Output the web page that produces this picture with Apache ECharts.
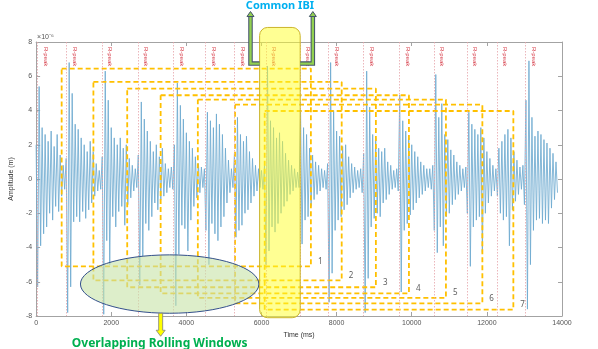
<!DOCTYPE html>
<html>
<head>
<meta charset="utf-8">
<title>Overlapping Rolling Windows</title>
<script src="https://cdn.jsdelivr.net/npm/echarts@6/dist/echarts.min.js"></script>
<style>
  html, body { margin: 0; padding: 0; background: #fff; }
  #chart { width: 598px; height: 349px; }
</style>
</head>
<body>
<div id="chart"></div>
<script>
// sample step of the signal (ms)
var SAMPLE_MS = 40;

// amplitude, in units of 1e-6 m (one line per beat)
var amplitude = [
  2.0, -6.3, 5.4, -3.9, 3.0, -3.2, 2.6, -2.8, 2.2, -2.0, 2.8, -2.4, 1.9, -1.6, 2.6, -1.9, 1.4, -1.0, 0.8, -0.6,
  1.2, -7.8, 6.8, -6.3, 5.0, -2.5, 3.2, -2.2, 2.9, -2.5, 2.4, -1.9, 2.0, -2.3, 1.6, -1.8, 2.2, -1.4, 1.6, -1.0, 0.9, -0.7, 0.5, -0.6,
  1.3, -7.9, 6.3, -3.6, 4.6, -5.0, 3.0, -2.2, 2.4, -2.8, 2.0, -1.9, 2.4, -1.6, 1.8, -2.7, 2.0, -1.5, 1.2, -1.1, 0.8, -0.7, 0.6, -0.5,
  1.4, -6.2, 4.5, -4.5, 3.5, -2.6, 2.8, -3.0, 2.2, -2.2, 1.6, -1.4, 2.0, -1.8, 1.3, -1.2, 1.8, -1.0, 0.9, -0.8, 0.6, -0.5, 0.7, -0.6,
  2.0, -7.4, 5.6, -4.4, 4.3, -2.7, 3.5, -2.9, 2.7, -4.2, 2.2, -2.4, 1.8, -1.6, 1.3, -1.1, 0.9, -0.8, 0.7, -0.5, 0.6,
  -3.0, 3.9, -5.0, 3.4, -2.6, 3.0, -3.2, 3.8, -3.6, 3.2, -2.8, 2.6, -2.2, 1.8, -1.4, 1.1, -0.8, 0.6, -0.5,
  1.5, -3.4, 3.6, -3.0, 2.6, -2.7, 2.2, -2.0, 2.5, -1.8, 1.6, -1.4, 1.2, -1.0, 0.8, -0.7, 0.6, -0.5, 0.5, -0.6, 0.8,
  -5.0, 6.6, -4.2, 3.4, -2.8, 3.0, -3.1, 2.4, -2.6, 2.7, -2.0, 2.2, -1.6, 1.5, -1.3, 1.1, -0.9, 0.8, -0.7, 0.6, -0.5, 0.4, -0.5,
  4.0, -3.8, 3.0, -2.4, 2.6, -2.2, 1.8, -1.6, 1.4, -1.2, 1.0, -0.9, 0.8, -0.7, 0.6, -0.5, 0.5, -0.6, 0.9,
  -7.2, 6.8, -5.5, 4.0, -3.0, 2.8, -2.4, 2.5, -2.2, 1.9, -1.8, 2.0, -1.5, 1.3, -1.1, 0.9, -0.8, 0.7, -0.6, 0.5, -0.5, 0.6, -0.8,
  1.5, -7.8, 6.3, -5.8, 4.2, -2.8, 2.6, -2.3, 2.4, -2.0, 1.8, -2.2, 1.6, -1.4, 1.8, -1.2, 1.0, -0.9, 0.8, -0.6, 0.5, -0.5, 0.6, -0.7,
  4.9, -6.6, 3.4, -3.0, 2.8, -2.6, 2.4, -2.1, 2.0, -1.8, 1.6, -1.4, 1.3, -1.1, 1.0, -0.9, 0.8, -0.7, 0.6, -0.5, 0.6, -0.6, 0.8,
  -3.0, 6.1, -4.3, 3.6, -2.8, 4.4, -3.9, 2.6, -2.2, 2.3, -2.0, 1.7, -1.5, 1.4, -1.2, 1.0, -0.9, 0.8, -0.7, 0.6, -0.5, 0.7,
  -2.0, 3.9, -5.1, 3.2, -2.8, 2.9, -2.4, 2.6, -2.2, 3.0, -4.3, 2.4, -2.0, 1.6, -1.4, 1.2, -1.0, 0.8, -0.7, 0.6,
  -1.0, 1.8, -2.0, 2.2, -2.4, 2.6, -2.2, 2.9, -3.9, 2.4, -1.8, 1.6, -1.3, 1.1, -0.9, 0.7, -0.6, 0.8, -1.5,
  4.6, -7.6, 6.9, -5.0, 3.6, -3.0, 2.5, -2.4, 2.8, -2.3, 2.6, -2.6, 2.3, -2.4, 2.1, -2.6, 1.8, -1.7, 1.5, -1.2, 1.0, -0.8
];

// R-peak times (ms)
var rPeaks = [34, 802, 1755, 2708, 3661, 4508, 5276, 6123, 7023, 7790, 8717, 9670, 10596, 11470, 12264, 13031];

// rolling windows (ms / 1e-6 m)
var winNames = ['1', '2', '3', '4', '5', '6', '7'];
var winStart = [680, 1525, 2425, 3315, 4305, 5295, 6085];
var winEnd = [7315, 8135, 9045, 9925, 10910, 11880, 12705];
var winTop = [6.45, 5.67, 5.28, 4.89, 4.64, 4.34, 3.97];
var winBottom = [-5.10, -5.92, -6.32, -6.68, -6.94, -7.26, -7.63];

// annotations, in data units
var ibiRange = [5950, 7030];      // common IBI column
var ibiTop = 8.85, ibiBottom = -8.1;
var arrowX = [5707, 7367];        // green arrows
var arrowY = 6.74, arrowTip = 9.78;
var ellipseX = [1180, 5930];      // overlapping windows ellipse
var ellipseY = [-7.84, -4.43];

var axisGray = '#a3a3a3';
var labelFont = 'Liberation Sans';

var chart = echarts.init(document.getElementById('chart'));

var signal = amplitude.map(function (v, i) { return [i * SAMPLE_MS, v]; });

var series = [{
	type: 'line',
	data: signal,
	showSymbol: false,
	silent: true,
	z: 2,
	lineStyle: { color: '#6eaad0', width: 0.85 },
	markLine: {
		silent: true,
		symbol: ['none', 'none'],
		lineStyle: { color: '#e6a3aa', type: [1.5, 1.5], width: 0.8 },
		label: {
			show: true,
			position: 'insideStartTop',
			formatter: 'R-peak',
			color: '#d8434f',
			fontSize: 6,
			fontFamily: labelFont
		},
		data: rPeaks.map(function (t) { return [{ coord: [t, 8] }, { coord: [t, -8] }]; })
	}
}];

// dashed window boxes
winStart.forEach(function (x0, k) {
	var x1 = winEnd[k], y0 = winTop[k], y1 = winBottom[k];
	series.push({
		type: 'line',
		silent: true,
		symbol: 'none',
		z: 4,
		lineStyle: { color: '#ffc000', width: 1.8, type: [5, 3] },
		data: [[x0, y0], [x1, y0], [x1, y1], [x0, y1], [x0, y0]]
	});
});

// window numbers
series.push({
	type: 'scatter',
	silent: true,
	symbolSize: 0,
	z: 5,
	data: winEnd.map(function (x, k) { return [x, winBottom[k]]; }),
	label: {
		show: true,
		position: 'right',
		offset: [2, -5],
		formatter: function (p) { return winNames[p.dataIndex]; },
		color: '#333',
		fontSize: 8,
		fontFamily: 'Noto Sans'
	}
});

var frameAxis = {
	axisLine: { show: true, onZero: false, lineStyle: { color: axisGray } },
	axisTick: { show: true, inside: true, length: 4, lineStyle: { color: axisGray } },
	axisLabel: { show: false },
	splitLine: { show: false }
};

chart.setOption({
	animation: false,
	backgroundColor: '#fff',
	grid: { left: 33, right: 36, top: 42, bottom: 33 },
	xAxis: [
		{
			type: 'value', min: 0, max: 14000, interval: 2000, position: 'bottom',
			name: 'Time (ms)', nameLocation: 'middle', nameGap: 14,
			nameTextStyle: { fontSize: 7, color: '#333', fontFamily: labelFont },
			axisLine: frameAxis.axisLine, axisTick: frameAxis.axisTick,
			axisLabel: { fontSize: 7, color: '#555', margin: 4, fontFamily: labelFont,
				formatter: function (v) { return String(v); } },
			splitLine: { show: false }
		},
		echarts.util.merge({ type: 'value', min: 0, max: 14000, interval: 2000, position: 'top' }, frameAxis)
	],
	yAxis: [
		{
			type: 'value', min: -8, max: 8, interval: 2, position: 'left',
			name: 'Amplitude (m)', nameLocation: 'middle', nameGap: 12,
			nameTextStyle: { fontSize: 7, color: '#333', fontFamily: labelFont },
			axisLine: frameAxis.axisLine, axisTick: frameAxis.axisTick,
			axisLabel: { fontSize: 7, color: '#555', margin: 4, fontFamily: labelFont },
			splitLine: { show: false }
		},
		echarts.util.merge({ type: 'value', min: -8, max: 8, interval: 2, position: 'right' }, frameAxis)
	],
	series: series
});

// annotation shapes, placed from data coordinates
function px(x, y) {
	return chart.convertToPixel({ seriesIndex: 0 }, [x, y]);
}

function greenArrow(xEdge, xArrow) {
	var a = px(xEdge, arrowY), c = px(xArrow, arrowY), t = px(xArrow, arrowTip);
	var pts = [a, c, [c[0], t[1] + 4]];
	return [
		{ type: 'polyline', z: 60, shape: { points: pts }, style: { stroke: '#44546a', lineWidth: 4.5, fill: null } },
		{ type: 'polyline', z: 61, shape: { points: pts }, style: { stroke: '#92d050', lineWidth: 2.4, fill: null } },
		{ type: 'polygon', z: 62, shape: { points: [[t[0], t[1]], [t[0] - 3.5, t[1] + 5], [t[0] + 3.5, t[1] + 5]] },
			style: { fill: '#92d050', stroke: '#44546a', lineWidth: 1 } }
	];
}

function drawNotes() {
	var b0 = px(ibiRange[0], ibiTop), b1 = px(ibiRange[1], ibiBottom);
	var e0 = px(ellipseX[0], ellipseY[1]), e1 = px(ellipseX[1], ellipseY[0]);
	var ecx = (e0[0] + e1[0]) / 2, ecy = (e0[1] + e1[1]) / 2;
	var arrowCx = ecx - 9, eb = e1[1];
	var mag = px(0, 8);

	var g = [
		{ type: 'ellipse', z: 40,
			shape: { cx: ecx, cy: ecy, rx: (e1[0] - e0[0]) / 2, ry: (e1[1] - e0[1]) / 2 },
			style: { fill: 'rgba(200,228,170,0.62)', stroke: '#34508c', lineWidth: 1 } },
		{ type: 'polygon', z: 41,
			shape: { points: [
				[arrowCx - 2, eb], [arrowCx + 2, eb], [arrowCx + 2, eb + 17], [arrowCx + 4.5, eb + 17],
				[arrowCx, eb + 23], [arrowCx - 4.5, eb + 17], [arrowCx - 2, eb + 17]
			] },
			style: { fill: '#ffff00', stroke: '#7f7f7f', lineWidth: 0.8 } },
		{ type: 'text', z: 42, x: ecx - 10, y: eb + 30,
			style: { text: 'Overlapping Rolling Windows', fill: '#00b050', font: 'bold 12px "Noto Sans"', align: 'center', verticalAlign: 'middle' } },
		{ type: 'rect', z: 50,
			shape: { x: b0[0], y: b0[1], width: b1[0] - b0[0], height: b1[1] - b0[1], r: 8 },
			style: { fill: 'rgba(255,255,40,0.5)', stroke: '#cbb42a', lineWidth: 1 } },
		{ type: 'text', z: 63, x: (b0[0] + b1[0]) / 2, y: 6,
			style: { text: 'Common IBI', fill: '#00b0f0', font: 'bold 11px "Noto Sans"', align: 'center', verticalAlign: 'middle' } },
		{ type: 'text', z: 63, x: mag[0] + 1, y: mag[1] - 5,
			style: { text: '\u00d710\u207b\u2076', fill: '#555', font: '7px "Liberation Sans"', align: 'left', verticalAlign: 'middle' } }
	];
	g = g.concat(greenArrow(ibiRange[0], arrowX[0]), greenArrow(ibiRange[1], arrowX[1]));
	chart.setOption({ graphic: g });
}

drawNotes();
</script>
</body>
</html>
